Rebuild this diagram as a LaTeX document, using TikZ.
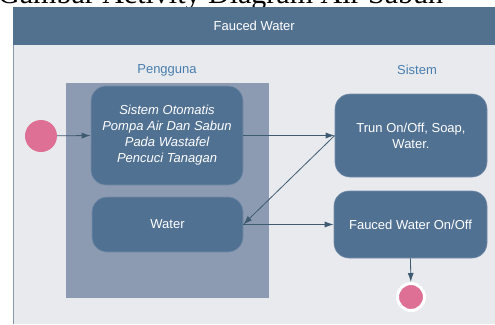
\documentclass[tikz,border=0pt]{standalone}
\usepackage{fontspec}
\setmainfont{Liberation Sans}
\newfontfamily\captionserif{Liberation Serif}
\usetikzlibrary{arrows.meta}
\definecolor{hdr}{HTML}{52718F}
\definecolor{actfill}{HTML}{517193}
\definecolor{lanefill}{HTML}{8C9BB1}
\definecolor{bgc}{HTML}{E8EAEE}
\definecolor{borderc}{HTML}{8896AE}
\definecolor{arrowc}{HTML}{3F5B72}
\definecolor{pinkc}{HTML}{DE7096}
\definecolor{lanetxt}{HTML}{4A7EAD}
\begin{document}
\begin{tikzpicture}[x=1pt,y=-1pt,
  act/.style={rectangle, rounded corners=15pt, fill=actfill, draw=actfill!80!white, line width=0.6pt, text=white, font=\fontsize{13}{16}\selectfont, align=center, inner sep=0pt},
  flow/.style={draw=arrowc, line width=0.8pt, -{Latex[length=9pt,width=6pt]}},
  lanelabel/.style={text=lanetxt, font=\fontsize{13}{16}\selectfont, inner sep=0pt}]
\clip (0,0) rectangle (495,324);
\fill[white] (0,0) rectangle (495,324);
\node[anchor=base west, font=\captionserif\fontsize{30}{31}\selectfont, inner sep=0pt] (cap) at (-2,4) {Gambar Activity Diagram Air Sabun};
\fill[bgc] (13,45) rectangle (495,324);
\draw[borderc, line width=1pt] (13.5,7) -- (13.5,324);
\node[fill=hdr, minimum width=482pt, minimum height=38pt, anchor=north west, inner sep=0pt, text=white, font=\fontsize{13}{16}\selectfont] (title) at (13,7) {Fauced Water};
\node[lanelabel] (lane1) at (167,70) {Pengguna};
\node[lanelabel] (lane2) at (417,70) {Sistem};
\fill[lanefill] (66,83) rectangle (269,298);
\node[act, minimum width=152pt, minimum height=99pt, font=\fontsize{13}{16}\selectfont\itshape] (n1) at (167,135.5) {Sistem Otomatis\\Pompa Air Dan Sabun\\Pada Wastafel\\Pencuci Tanagan};
\node[act, minimum width=151pt, minimum height=55pt] (n2) at (167.5,224.5) {Water};
\node[act, minimum width=152pt, minimum height=83pt] (n3) at (411,135.5) {Trun On/Off, Soap,\\Water.};
\node[act, minimum width=153pt, minimum height=67pt] (n4) at (410.5,224.5) {Fauced Water On/Off};
\node[circle, fill=pinkc, minimum size=32pt, inner sep=0pt] (start) at (41,136) {};
\node[circle, fill=pinkc, draw=white, line width=3pt, minimum size=27pt, inner sep=0pt] (stop) at (411,297) {};
\draw[flow] (start) -- (n1.west);
\draw[flow] (n1.east) -- (n3.west);
\draw[flow] (n3.west) -- (n2.east);
\draw[flow] (n2.east) -- (n4.west);
\draw[flow] (n4.south) -- (stop);
\end{tikzpicture}
\end{document}
